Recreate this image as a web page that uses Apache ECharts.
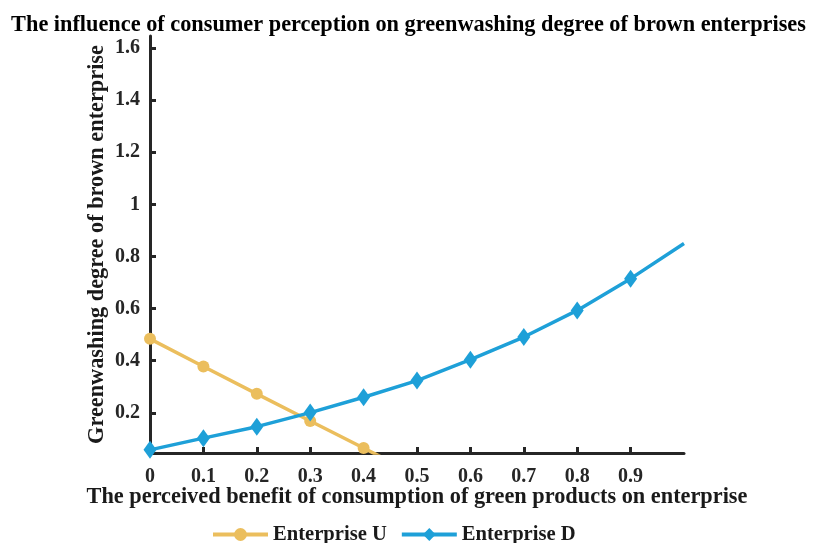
<!DOCTYPE html>
<html>
<head>
<meta charset="utf-8">
<script src="https://cdn.jsdelivr.net/npm/echarts@6/dist/echarts.min.js"></script>
<style>
  html, body { margin: 0; padding: 0; background: #fff; }
  #chart { width: 817px; height: 543px; }
</style>
</head>
<body>
<div id="chart"></div>
<script>
// Perceived benefit of green consumption (x)
const benefit = [0, 0.1, 0.2, 0.3, 0.4, 0.5, 0.6, 0.7, 0.8, 0.9, 1.0];
// Greenwashing degree, enterprise U (falls below the axis after 0.4)
const enterpriseU = [0.484, 0.378, 0.273, 0.169, 0.065, -0.039];
// Greenwashing degree, enterprise D
const enterpriseD = [0.058, 0.103, 0.147, 0.201, 0.260, 0.324, 0.404, 0.491, 0.593, 0.715, 0.850];
const xTicks = [0, 0.1, 0.2, 0.3, 0.4, 0.5, 0.6, 0.7, 0.8, 0.9];
const yTicks = [0.2, 0.4, 0.6, 0.8, 1, 1.2, 1.4, 1.6];

const FONT = '"Liberation Serif", "Times New Roman", serif';
const AXIS_COLOR = '#262626';

const uData = enterpriseU.map((v, i) => [benefit[i], v]);
const dData = enterpriseD.map((v, i) => {
  const p = { value: [benefit[i], v] };
  if (i === enterpriseD.length - 1) p.symbol = 'none';
  return p;
});

const chart = echarts.init(document.getElementById('chart'), null, { renderer: 'canvas' });
chart.setOption({
  animation: false,
  backgroundColor: '#fff',
  title: {
    text: 'The influence of consumer perception on greenwashing degree of brown enterprises',
    left: 'center',
    top: 9,
    textStyle: { fontFamily: FONT, fontWeight: 'bold', fontSize: 22.3, color: '#000' }
  },
  grid: { left: 150, right: 133, top: 36, bottom: 90 },
  xAxis: {
    type: 'value',
    min: 0,
    max: 1,
    name: 'The perceived benefit of consumption of green products on enterprise',
    nameLocation: 'middle',
    nameGap: 33,
    nameMoveOverlap: false,
    nameTextStyle: { fontFamily: FONT, fontWeight: 'bold', fontSize: 22.3, color: '#1a1a1a' },
    axisLine: { onZero: false, lineStyle: { color: AXIS_COLOR, width: 3 } },
    axisTick: { inside: true, length: 6, lineStyle: { color: AXIS_COLOR, width: 3 }, customValues: xTicks },
    axisLabel: {
      fontFamily: FONT, fontWeight: 'bold', fontSize: 20, color: '#262626', margin: 14,
      customValues: xTicks,
      formatter: v => (v === 0 ? '0' : String(+v.toFixed(1)))
    },
    splitLine: { show: false }
  },
  yAxis: {
    type: 'value',
    min: 0.046,
    max: 1.646,
    name: 'Greenwashing degree of brown enterprise',
    nameLocation: 'middle',
    nameGap: 42,
    nameMoveOverlap: false,
    nameTextStyle: { fontFamily: FONT, fontWeight: 'bold', fontSize: 22.3, color: '#1a1a1a' },
    axisLine: { lineStyle: { color: AXIS_COLOR, width: 3 } },
    axisTick: { inside: true, length: 6, lineStyle: { color: AXIS_COLOR, width: 3 }, customValues: yTicks },
    axisLabel: {
      fontFamily: FONT, fontWeight: 'bold', fontSize: 20, color: '#262626', margin: 10,
      customValues: yTicks,
      formatter: v => String(+v.toFixed(1))
    },
    splitLine: { show: false }
  },
  legend: {
    top: 519,
    left: 206,
    itemWidth: 55,
    itemHeight: 16,
    itemGap: 13,
    lineStyle: { width: 4 },
    textStyle: { fontFamily: FONT, fontWeight: 'bold', fontSize: 20.6, color: '#1a1a1a' },
    data: ['Enterprise U', 'Enterprise D']
  },
  series: [
    {
      name: 'Enterprise U',
      type: 'line',
      data: uData,
      symbol: 'circle',
      symbolSize: 12,
      showAllSymbol: true,
      clip: true,
      color: '#EBBE5D',
      lineStyle: { width: 3.5, color: '#EBBE5D' },
      itemStyle: { color: '#EBBE5D' }
    },
    {
      name: 'Enterprise D',
      type: 'line',
      data: dData,
      symbol: 'diamond',
      symbolSize: [13, 18],
      showAllSymbol: true,
      clip: true,
      color: '#1EA0D8',
      lineStyle: { width: 3.5, color: '#1EA0D8' },
      itemStyle: { color: '#1EA0D8' }
    }
  ]
});
</script>
</body>
</html>
